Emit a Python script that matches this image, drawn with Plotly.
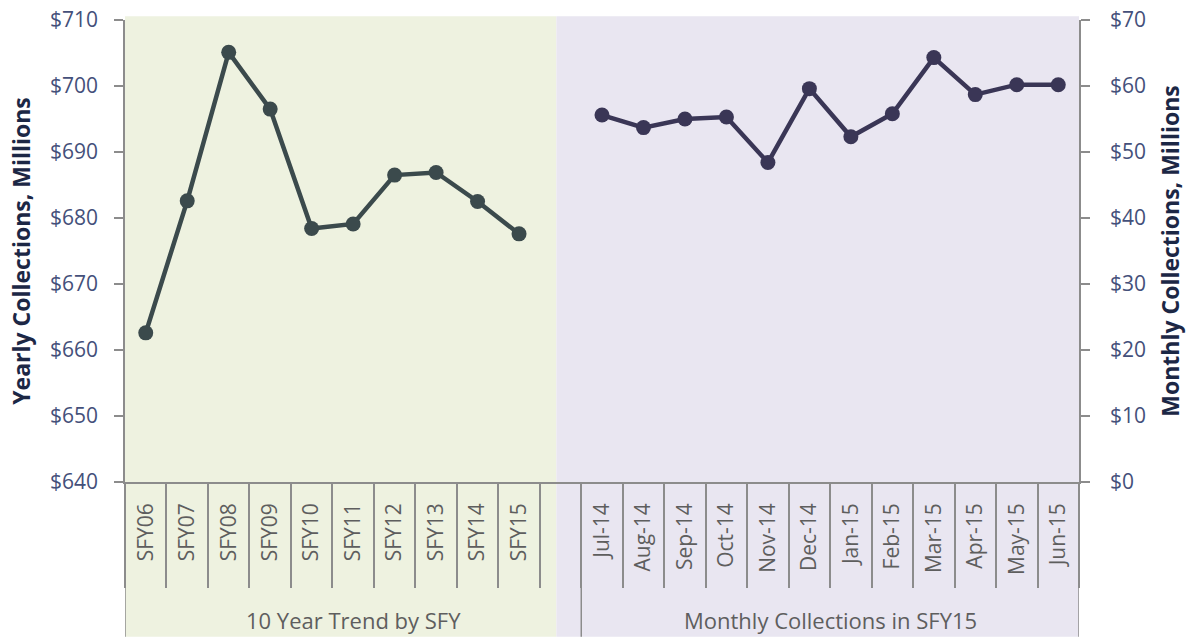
import plotly.graph_objects as go

# ---- data ----
years = ["SFY06", "SFY07", "SFY08", "SFY09", "SFY10", "SFY11", "SFY12", "SFY13", "SFY14", "SFY15"]
yearly = [662.6, 682.6, 705.1, 696.5, 678.4, 679.1, 686.5, 686.9, 682.5, 677.6]
months = ["Jul-14", "Aug-14", "Sep-14", "Oct-14", "Nov-14", "Dec-14", "Jan-15", "Feb-15",
          "Mar-15", "Apr-15", "May-15", "Jun-15"]
monthly = [55.6, 53.7, 55.0, 55.3, 48.4, 59.6, 52.3, 55.8, 64.3, 58.7, 60.2, 60.2]
gap = [" "]
groups = ["10 Year Trend by SFY", "Monthly Collections in SFY15"]
y_left_range = [640, 710]
y_right_range = [0, 70]

all_cats = years + gap + months
n = len(all_cats)

FONT = "Open Sans"
AXIS_GRAY = "#8c8c8c"
TICK_COL = "#44507a"
TITLE_COL = "#1c2745"
LABEL_COL = "#5e5e5e"
LEFT_COL = "#3b4a4c"
RIGHT_COL = "#3a3656"

fig = go.Figure()

fig.add_trace(go.Scatter(
    x=years, y=yearly, mode="lines+markers", xaxis="x", yaxis="y",
    line=dict(color=LEFT_COL, width=4.5), marker=dict(size=15, color=LEFT_COL),
    showlegend=False, name="Yearly"))

fig.add_trace(go.Scatter(
    x=months, y=monthly, mode="lines+markers", xaxis="x", yaxis="y2",
    line=dict(color=RIGHT_COL, width=4.5), marker=dict(size=15, color=RIGHT_COL),
    showlegend=False, name="Monthly"))

# invisible helper trace so the overlay axis knows all categories (for boundary ticks)
fig.add_trace(go.Scatter(
    x=all_cats, y=[y_left_range[0]] * n, mode="markers", xaxis="x3", yaxis="y",
    marker=dict(opacity=0), hoverinfo="skip", showlegend=False))

xr = [-0.5, n - 0.5]
y_bottom = -0.335

shapes = [
    dict(type="rect", xref="x", yref="paper", x0=-0.56, x1=9.9, y0=y_bottom, y1=1.008,
         fillcolor="#eef2e0", line=dict(width=0), layer="below"),
    dict(type="rect", xref="x", yref="paper", x0=9.9, x1=n - 0.48, y0=y_bottom, y1=1.008,
         fillcolor="#e9e6f1", line=dict(width=0), layer="below"),
]
for xb in [-0.5, len(years) + 0.5, n - 0.5]:
    shapes.append(dict(type="line", xref="x", yref="paper", x0=xb, x1=xb, y0=0, y1=y_bottom,
                       line=dict(color=AXIS_GRAY, width=1.5)))

annotations = [
    dict(text=groups[0], xref="x", yref="paper", x=(len(years)) / 2, y=-0.299,
         xanchor="center", yanchor="middle",
         showarrow=False, font=dict(family=FONT, size=22, color=LABEL_COL)),
    dict(text=groups[1], xref="x", yref="paper", x=len(years) + 1 + (len(months) - 1) / 2, y=-0.299,
         xanchor="center", yanchor="middle",
         showarrow=False, font=dict(family=FONT, size=22, color=LABEL_COL)),
]

fig.update_layout(
    width=1186, height=643, autosize=False,
    margin=dict(l=125, r=107, t=20, b=161),
    paper_bgcolor="white", plot_bgcolor="rgba(0,0,0,0)",
    font=dict(family=FONT),
    shapes=shapes, annotations=annotations,
    xaxis=dict(type="category", categoryorder="array", categoryarray=all_cats, range=xr,
               showline=True, linecolor=AXIS_GRAY, linewidth=1.5, ticks="",
               tickangle=-90, ticklabelstandoff=11, automargin=False,
               tickfont=dict(family=FONT, size=21, color=LABEL_COL),
               showgrid=False, zeroline=False, fixedrange=True),
    xaxis3=dict(type="category", categoryorder="array", categoryarray=all_cats, range=xr,
                overlaying="x", anchor="y", side="bottom", tickson="boundaries",
                ticks="outside", ticklen=105, tickwidth=1.5, tickcolor=AXIS_GRAY,
                automargin=False,
                showticklabels=False, showgrid=False, showline=False, zeroline=False),
    yaxis=dict(range=y_left_range, dtick=10, tickprefix="$", ticks="outside", ticklen=9,
               tickwidth=1.5, tickcolor=AXIS_GRAY, showline=True, linecolor=AXIS_GRAY,
               linewidth=1.5, showgrid=False, zeroline=False, ticklabelstandoff=12,
               automargin=False,
               tickfont=dict(family=FONT, size=21, color=TICK_COL),
               title=dict(text="<b>Yearly Collections, Millions</b>", standoff=13,
                          font=dict(family=FONT, size=23, color=TITLE_COL))),
    yaxis2=dict(range=y_right_range, dtick=10, tickprefix="$", ticks="outside", ticklen=9,
                tickwidth=1.5, tickcolor=AXIS_GRAY, showline=True, linecolor=AXIS_GRAY,
                linewidth=1.5, showgrid=False, zeroline=False, overlaying="y", side="right",
                anchor="x", ticklabelstandoff=16, automargin=False,
                tickfont=dict(family=FONT, size=21, color=TICK_COL),
                title=dict(text="<b>Monthly Collections, Millions</b>", standoff=18,
                           font=dict(family=FONT, size=23, color=TITLE_COL))),
)

fig.write_html("out.html")
